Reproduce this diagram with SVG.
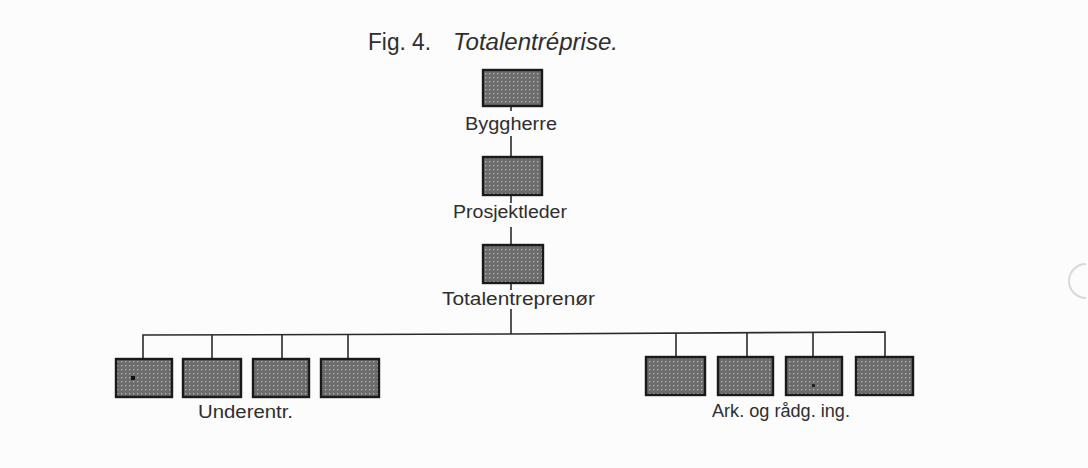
<svg xmlns="http://www.w3.org/2000/svg" width="1088" height="468" viewBox="0 0 1088 468">
<defs>
<pattern id="dots" width="4" height="4" patternUnits="userSpaceOnUse">
<rect width="4" height="4" fill="#6c6c6c"/>
<rect x="1" y="1" width="1.3" height="1.3" fill="#b8b8b8"/>
</pattern>
<style>
.box{fill:url(#dots);stroke:#1a1a1a;stroke-width:2.4}
.ln{stroke:#2a2a2a;stroke-width:1.6;fill:none}
.lbl{font-family:"Liberation Sans",Arial,sans-serif;font-size:17.5px;fill:#2e2e2e}
.title{font-family:"Liberation Sans",Arial,sans-serif;font-size:23px;fill:#2e2e2e}
</style>
</defs>
<rect width="1088" height="468" fill="#fcfcfc"/>
<path d="M1086,264 A16,16 0 0 0 1086,298" fill="none" stroke="#d8d8d8" stroke-width="2"/>
<text class="title" x="368" y="50"><tspan textLength="63" lengthAdjust="spacingAndGlyphs">Fig. 4.</tspan><tspan x="453" font-style="italic" textLength="165" lengthAdjust="spacingAndGlyphs">Totalentréprise.</tspan></text>
<g id="connectors">
<line class="ln" x1="511" y1="106" x2="511" y2="111"/>
<line class="ln" x1="511" y1="136" x2="511" y2="157"/>
<line class="ln" x1="511" y1="195" x2="511" y2="203"/>
<line class="ln" x1="511" y1="227" x2="511" y2="245"/>
<line class="ln" x1="511" y1="283" x2="511" y2="290"/>
<line class="ln" x1="511" y1="309" x2="511" y2="334"/>
<polyline class="ln" points="143,359 143,335 511,334 885,332 885,357"/>
<line class="ln" x1="212" y1="335" x2="212" y2="359"/>
<line class="ln" x1="282" y1="335" x2="282" y2="359"/>
<line class="ln" x1="348" y1="335" x2="348" y2="359"/>
<line class="ln" x1="676" y1="333" x2="676" y2="357"/>
<line class="ln" x1="747" y1="333" x2="747" y2="357"/>
<line class="ln" x1="813" y1="332" x2="813" y2="357"/>
</g>
<g id="byggherre">
<rect class="box" x="483" y="70" width="59" height="36"/>
<text class="lbl" x="465" y="130" textLength="92" lengthAdjust="spacingAndGlyphs">Byggherre</text>
</g>
<g id="prosjektleder">
<rect class="box" x="483" y="157" width="59" height="38"/>
<text class="lbl" x="453" y="218" textLength="114" lengthAdjust="spacingAndGlyphs">Prosjektleder</text>
</g>
<g id="totalentreprenor">
<rect class="box" x="483" y="245" width="60" height="38"/>
<text class="lbl" x="442" y="305" textLength="153" lengthAdjust="spacingAndGlyphs">Totalentreprenør</text>
</g>
<g id="underentr">
<rect class="box" x="116" y="359" width="56" height="38"/>
<rect x="131" y="376" width="4" height="4" fill="#111"/>
<rect class="box" x="183" y="359" width="58" height="38"/>
<rect class="box" x="253" y="359" width="56" height="38"/>
<rect class="box" x="321" y="359" width="58" height="38"/>
<text class="lbl" x="198" y="418" textLength="95" lengthAdjust="spacingAndGlyphs">Underentr.</text>
</g>
<g id="ark">
<rect class="box" x="646" y="357" width="59" height="38"/>
<rect class="box" x="718" y="357" width="55" height="38"/>
<rect class="box" x="786" y="357" width="56" height="38"/>
<rect x="812" y="384" width="3" height="3" fill="#222"/>
<rect class="box" x="856" y="357" width="57" height="38"/>
<text class="lbl" x="712" y="417" textLength="138" lengthAdjust="spacingAndGlyphs">Ark. og rådg. ing.</text>
</g>
</svg>
